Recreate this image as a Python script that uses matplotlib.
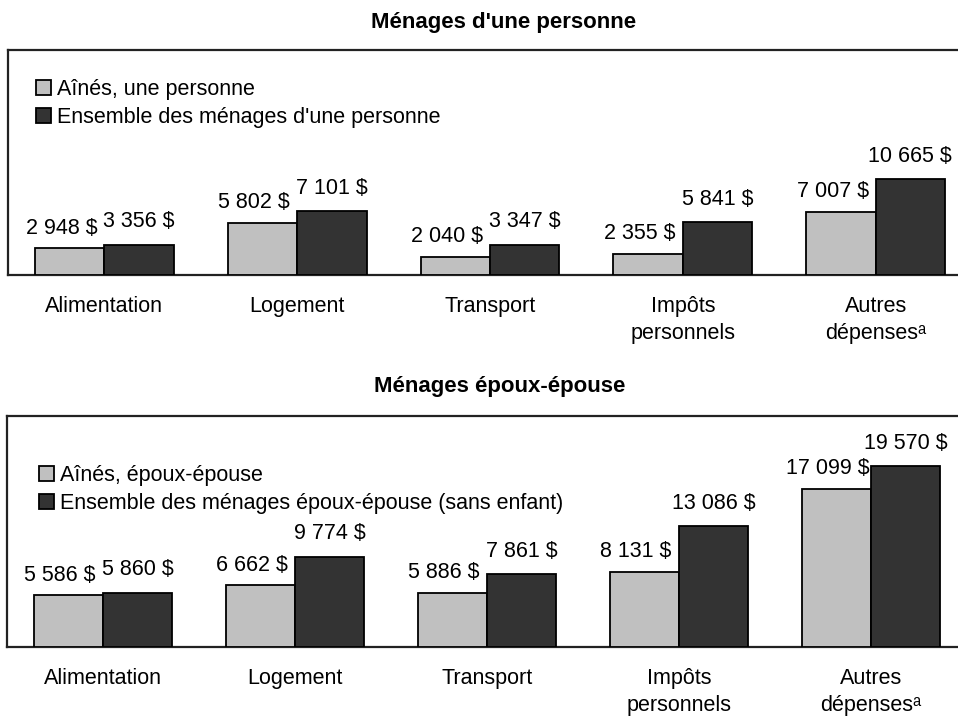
import matplotlib
matplotlib.use("Agg")
import matplotlib.pyplot as plt
import numpy as np

plt.rcParams['font.family'] = ['Liberation Sans', 'DejaVu Sans']

categories = ["Alimentation", "Logement", "Transport", "Impôts\npersonnels",
              "Autres\ndépensesᵃ"]

# Ménages d'une personne
seul_aines = [2948, 5802, 2040, 2355, 7007]
seul_ensemble = [3356, 7101, 3347, 5841, 10665]
seul_labels = ["Aînés, une personne", "Ensemble des ménages d'une personne"]

# Ménages époux-épouse
couple_aines = [5586, 6662, 5886, 8131, 17099]
couple_ensemble = [5860, 9774, 7861, 13086, 19570]
couple_labels = ["Aînés, époux-épouse",
                 "Ensemble des ménages époux-épouse (sans enfant)"]

titles = ["Ménages d'une personne", "Ménages époux-épouse"]

W, H = 958, 716
fig = plt.figure(figsize=(W / 100, H / 100), dpi=100)

LIGHT = "#c0c0c0"
DARK = "#333333"
FS = 15.5


def fmt(v):
    return f"{v:,}".replace(",", " ") + " $"


def panel(rect, a, b, labels, legend_xy):
    ax = fig.add_axes(rect)
    x = np.arange(len(categories))
    w = 0.36
    ax.bar(x - w / 2, a, w, color=LIGHT, edgecolor="black", linewidth=1.3,
           label=labels[0], zorder=3)
    ax.bar(x + w / 2, b, w, color=DARK, edgecolor="black", linewidth=1.3,
           label=labels[1], zorder=3)
    for xi, v in zip(x, a):
        ax.annotate(fmt(v), (xi - w / 2, v), xytext=(-6, 7),
                    textcoords="offset points", ha="center", va="bottom",
                    fontsize=FS)
    for xi, v in zip(x, b):
        ax.annotate(fmt(v), (xi + w / 2, v), xytext=(0, 9),
                    textcoords="offset points", ha="center", va="bottom",
                    fontsize=FS)
    ax.set_xlim(-0.5, 4.5)
    ax.set_ylim(0, 25000)
    ax.set_yticks([])
    ax.set_xticks(x)
    ax.set_xticklabels(categories, fontsize=FS, linespacing=1.4)
    ax.tick_params(axis="x", length=0, pad=15)
    for s in ax.spines.values():
        s.set_linewidth(1.6)
        s.set_color("#222222")
    ax.legend(loc="upper left", bbox_to_anchor=legend_xy, frameon=False,
              fontsize=FS, handlelength=0.7, handleheight=0.7,
              handletextpad=0.3, labelspacing=0.3, borderpad=0,
              borderaxespad=0)
    return ax


# top panel: pixel box left 8, top 50, bottom 275, right off-figure
panel([8 / W, (H - 275) / H, 964 / W, 225 / H],
      seul_aines, seul_ensemble, seul_labels, (0.029, 0.87))
panel([7 / W, (H - 647) / H, 960 / W, 231 / H],
      couple_aines, couple_ensemble, couple_labels, (0.033, 0.787))

fig.text(504 / W, 1 - 28 / H, titles[0], ha="center", va="baseline",
         fontsize=16, fontweight="bold")
fig.text(500 / W, 1 - 392 / H, titles[1], ha="center", va="baseline",
         fontsize=16, fontweight="bold")

fig.savefig("out.png", dpi=100, facecolor="white")
